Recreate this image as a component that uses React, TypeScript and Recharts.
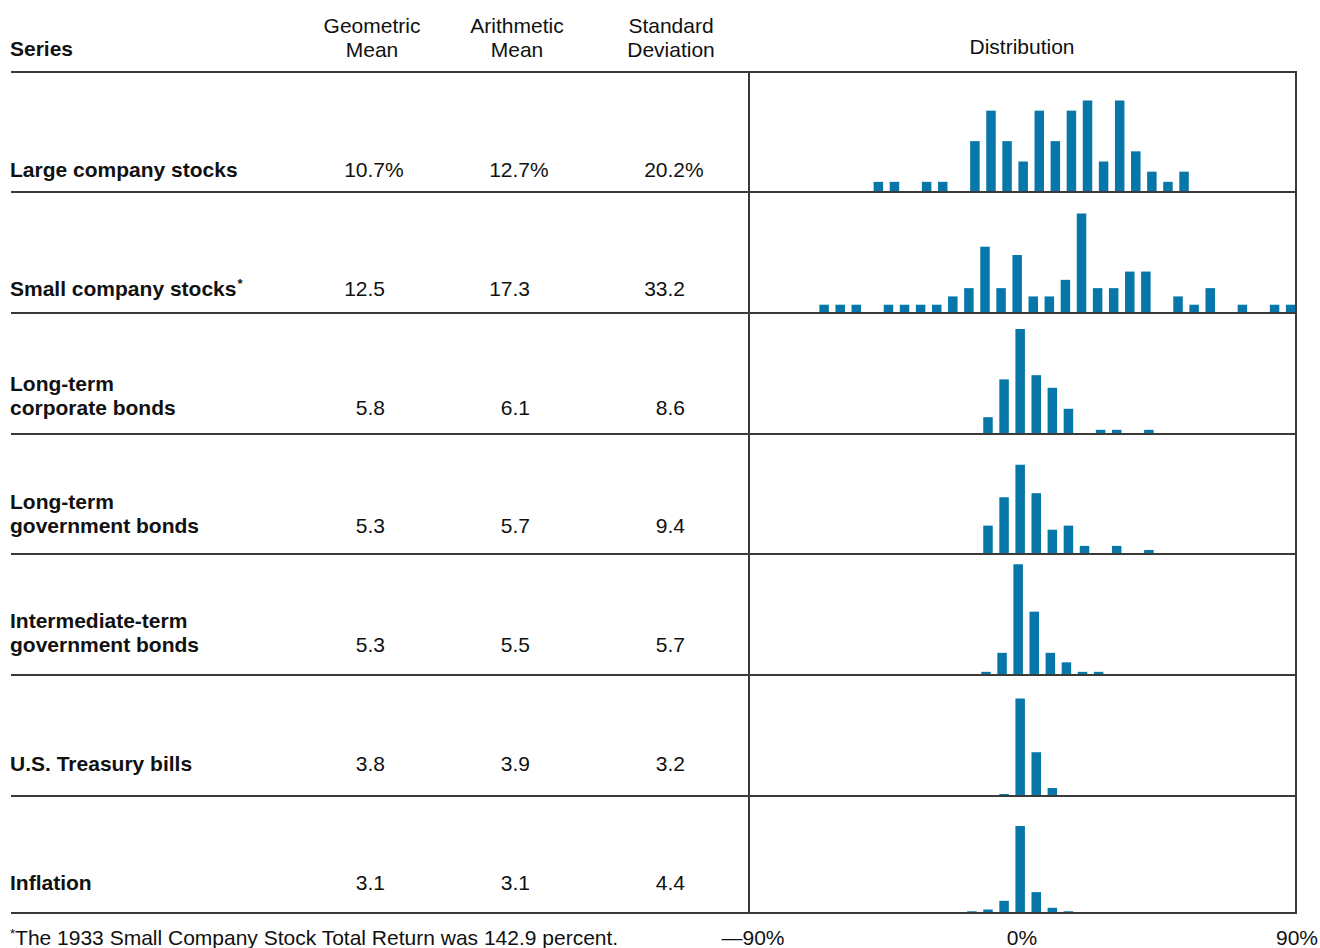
import { BarChart, Bar, XAxis, YAxis } from 'recharts';

// summary statistics, 1926-2001 annual total returns
const seriesNames = [
  ['Large company stocks'],
  ['Small company stocks'],
  ['Long-term', 'corporate bonds'],
  ['Long-term', 'government bonds'],
  ['Intermediate-term', 'government bonds'],
  ['U.S. Treasury bills'],
  ['Inflation'],
];
const footnoted = [false, true, false, false, false, false, false];

const geometricMean = [10.7, 12.5, 5.8, 5.3, 5.3, 3.8, 3.1];
const arithmeticMean = [12.7, 17.3, 6.1, 5.7, 5.5, 3.9, 3.1];
const standardDeviation = [20.2, 33.2, 8.6, 9.4, 5.7, 3.2, 4.4];

// 5% return bins, lower bound
const bins = [
  '-80', '-75', '-70', '-65', '-60', '-55', '-50', '-45', '-40', '-35', '-30', '-25',
  '-20', '-15', '-10', '-5', '0', '5', '10', '15', '20', '25', '30', '35',
  '40', '45', '50', '55', '60', '65', '70', '75', '80', '85',
];

// number of years falling in each bin
const largeStocks = [0, 0, 0, 0, 0, 0, 0, 1, 1, 0, 1, 1, 0, 5, 8, 5, 3, 8, 5, 8, 9, 3, 9, 4, 2, 1, 2, 0, 0, 0, 0, 0, 0, 0];
const smallStocks = [0, 0, 0, 0, 1, 1, 1, 0, 1, 1, 1, 1, 2, 3, 8, 3, 7, 2, 2, 4, 12, 3, 3, 5, 5, 0, 2, 1, 3, 0, 1, 0, 1, 1];
const corpBonds = [0, 0, 0, 0, 0, 0, 0, 0, 0, 0, 0, 0, 0, 0, 4, 13, 25, 14, 11, 6, 0, 1, 1, 0, 1, 0, 0, 0, 0, 0, 0, 0, 0, 0];
const govBonds = [0, 0, 0, 0, 0, 0, 0, 0, 0, 0, 0, 0, 0, 0, 7, 14, 22, 15, 6, 7, 2, 0, 2, 0, 1, 0, 0, 0, 0, 0, 0, 0, 0, 0];
const interGovBonds = [0, 0, 0, 0, 0, 0, 0, 0, 0, 0, 0, 0, 0, 0, 1, 7, 35, 20, 7, 4, 1, 1, 0, 0, 0, 0, 0, 0, 0, 0, 0, 0, 0, 0];
const treasuryBills = [0, 0, 0, 0, 0, 0, 0, 0, 0, 0, 0, 0, 0, 0, 0, 1, 49, 22, 4, 0, 0, 0, 0, 0, 0, 0, 0, 0, 0, 0, 0, 0, 0, 0];
const inflation = [0, 0, 0, 0, 0, 0, 0, 0, 0, 0, 0, 0, 0, 1, 2, 7, 50, 12, 3, 1, 0, 0, 0, 0, 0, 0, 0, 0, 0, 0, 0, 0, 0, 0];

const distributions = [largeStocks, smallStocks, corpBonds, govBonds, interGovBonds, treasuryBills, inflation];

// layout
const FONT = '"Liberation Sans", Arial, Helvetica, sans-serif';
const BAR_COLOR = '#0677a8';
const LINE_COLOR = '#3a3a3a';
const LINE_Y = [72, 192, 313, 434, 554, 675, 796, 913];
const PANEL_L = 749;
const PANEL_R = 1296;
const yScaleMax = [11.8, 14.6, 28.8, 29.6, 38.2, 60.8, 67.2];
const xShift = [6, 0, 3, 3, 0.5, 3, 3];
const valueRight = [385, 530, 685];

const textStyle = { position: 'absolute' as const, fontFamily: FONT, fontSize: 21, lineHeight: '24px', color: '#111', whiteSpace: 'nowrap' as const };

const Histogram = ({ row }: { row: number }) => {
  const data = bins.map((b, i) => ({ bin: b, count: distributions[row][i] }));
  const top = LINE_Y[row];
  const height = LINE_Y[row + 1] - top;
  return (
    <div style={{ position: 'absolute', left: PANEL_L + 3.4 + xShift[row], top, width: PANEL_R - PANEL_L, height }}>
      <BarChart width={PANEL_R - PANEL_L} height={height} data={data} margin={{ top: 0, right: 0, bottom: 0, left: 0 }}>
        <XAxis dataKey="bin" hide />
        <YAxis hide domain={[0, yScaleMax[row]]} />
        <Bar dataKey="count" fill={BAR_COLOR} barSize={9.5} isAnimationActive={false} />
      </BarChart>
    </div>
  );
};

export default function App() {
  return (
    <div style={{ position: 'absolute', left: 0, top: 0, width: 1320, height: 948, background: '#fff', overflow: 'hidden' }}>
      {/* header */}
      <div style={{ ...textStyle, left: 10, top: 37, fontWeight: 'bold' }}>Series</div>
      {[['Geometric', 'Mean', 372], ['Arithmetic', 'Mean', 517], ['Standard', 'Deviation', 671]].map(([a, b, cx]) => (
        <div key={a as string} style={{ ...textStyle, left: (cx as number) - 80, width: 160, top: 14, textAlign: 'center' }}>
          {a}<br />{b}
        </div>
      ))}
      <div style={{ ...textStyle, left: 1022 - 80, width: 160, top: 35, textAlign: 'center' }}>Distribution</div>

      {/* rows */}
      {seriesNames.map((lines, i) => {
        const cy = 170 + i * 118.8;
        const vals = [geometricMean[i], arithmeticMean[i], standardDeviation[i]];
        return (
          <div key={i}>
            <div style={{ ...textStyle, left: 10, top: cy - 12 - (lines.length - 1) * 24, fontWeight: 'bold' }}>
              {lines.map((l, j) => (
                <div key={j}>
                  {l}
                  {footnoted[i] && j === lines.length - 1 && (
                    <span style={{ fontSize: 13, position: 'relative', top: -8, marginLeft: 1 }}>*</span>
                  )}
                </div>
              ))}
            </div>
            {vals.map((v, k) => (
              <div key={k} style={{ ...textStyle, right: 1320 - valueRight[k], top: cy - 12 }}>
                {v.toFixed(1)}
                {i === 0 && <span style={{ position: 'absolute', left: '100%' }}>%</span>}
              </div>
            ))}
            <Histogram row={i} />
          </div>
        );
      })}

      {/* rules */}
      {LINE_Y.map((y) => (
        <div key={y} style={{ position: 'absolute', left: 11, top: y - 1, width: PANEL_R + 1 - 11, height: 2, background: LINE_COLOR }} />
      ))}
      {[PANEL_L, PANEL_R].map((x) => (
        <div key={x} style={{ position: 'absolute', left: x - 1, top: LINE_Y[0], width: 1.6, height: LINE_Y[7] - LINE_Y[0], background: LINE_COLOR }} />
      ))}

      {/* footnote and axis labels */}
      <div style={{ ...textStyle, left: 10, top: 926 }}>
        <span style={{ fontSize: 13, position: 'relative', top: -7 }}>*</span>The 1933 Small Company Stock Total Return was 142.9 percent.
      </div>
      <div style={{ ...textStyle, left: 753 - 50, width: 100, top: 926, textAlign: 'center' }}>—90%</div>
      <div style={{ ...textStyle, left: 1022 - 50, width: 100, top: 926, textAlign: 'center' }}>0%</div>
      <div style={{ ...textStyle, right: 2, top: 926 }}>90%</div>
    </div>
  );
}
